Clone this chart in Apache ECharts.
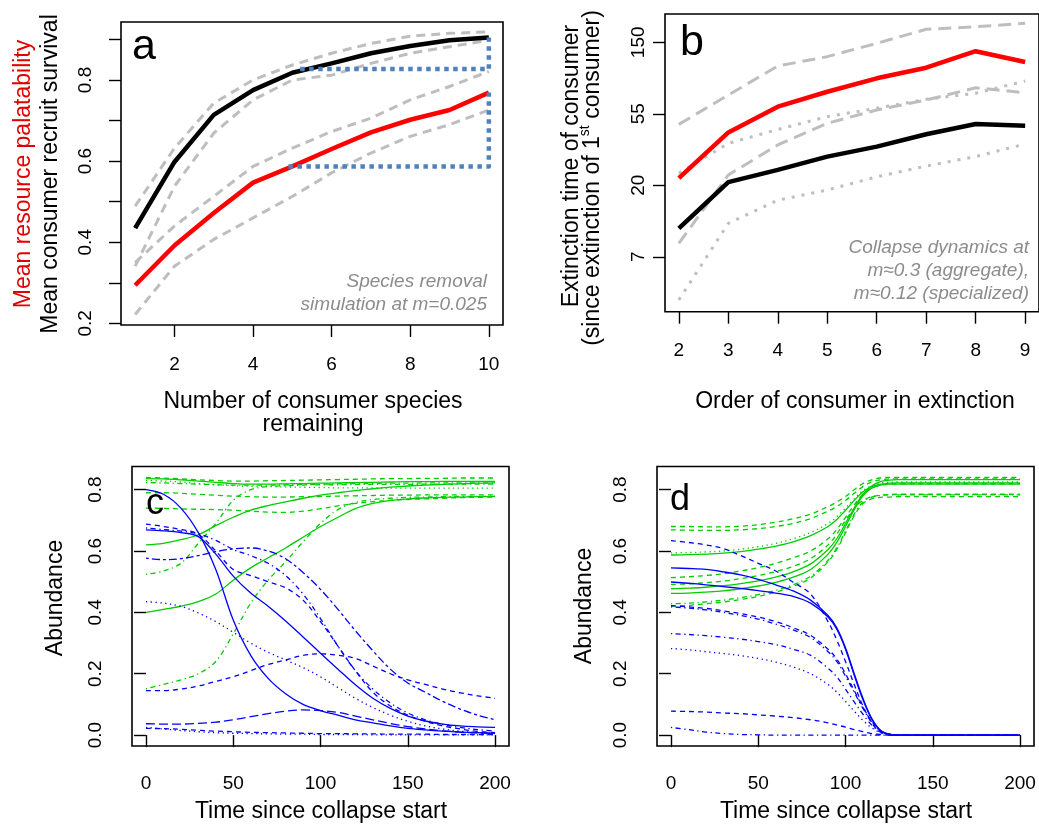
<!DOCTYPE html>
<html>
<head>
<meta charset="utf-8">
<script src="https://cdn.jsdelivr.net/npm/echarts@6/dist/echarts.min.js"></script>
<style>
  html, body { margin: 0; padding: 0; background: #fff; }
  #chart { width: 1039px; height: 824px; }
</style>
</head>
<body>
<div id="chart"></div>
<script>
// ---------- Panel a: species removal simulation ----------
const speciesRemaining = [1, 2, 3, 4, 5, 6, 7, 8, 9, 10];
const survivalMean   = [0.435, 0.598, 0.714, 0.775, 0.818, 0.841, 0.866, 0.884, 0.898, 0.905];
const survivalUpper  = [0.489, 0.632, 0.743, 0.800, 0.837, 0.866, 0.890, 0.908, 0.915, 0.919];
const survivalLower  = [0.341, 0.538, 0.669, 0.751, 0.800, 0.812, 0.841, 0.866, 0.882, 0.898];
const palatMean      = [0.294, 0.392, 0.472, 0.547, 0.587, 0.630, 0.671, 0.702, 0.726, 0.769];
const palatUpper     = [0.350, 0.440, 0.513, 0.587, 0.632, 0.673, 0.706, 0.751, 0.784, 0.821];
const palatLower     = [0.222, 0.341, 0.407, 0.460, 0.513, 0.571, 0.620, 0.661, 0.690, 0.726];
// dotted brackets: change from ~5 to 10 remaining species
const survivalGapX = [5.2, 10, 10];
const survivalGapY = [0.827, 0.827, 0.905];
const palatGapX    = [4.9, 10, 10];
const palatGapY    = [0.587, 0.587, 0.769];
const axisA_xTicks = [2, 4, 6, 8, 10];
const axisA_yTicks = [0.2, 0.3, 0.4, 0.5, 0.6, 0.7, 0.8, 0.9];
const axisA_yLabels = [0.2, 0.4, 0.6, 0.8];

// ---------- Panel b: extinction times (log scale) ----------
const extinctionOrder = [2, 3, 4, 5, 6, 7, 8, 9];
const redTime        = [22.2, 42.1, 60.3, 74.3, 89.7, 104, 131, 112.6];
const blackTime      = [11.0, 21.0, 24.9, 30.0, 34.5, 41.0, 47.3, 46.2];
const redBandUpper   = [47.1, 71, 106.6, 121.4, 146.4, 178, 184.6, 193.7];
const redBandLower   = [8.9, 23.2, 35.3, 47.8, 57.6, 66.2, 78.6, 73.3];
const blackBandUpper = [23.8, 36.1, 43.9, 52.5, 59, 66.9, 72.8, 86.4];
const blackBandLower = [4.04, 11.8, 16.3, 18.8, 22.6, 26.3, 30, 35.8];
const axisB_xTicks = [2, 3, 4, 5, 6, 7, 8, 9];
const axisB_yTickExp = [2, 3, 4, 5];            // natural-log positions
const axisB_yTickLabels = ['7', '20', '55', '150'];

// ---------- Panel c: aggregate collapse dynamics ----------
const timeC = [0, 10, 20, 30, 40, 50, 60, 70, 80, 90, 100, 110, 120, 130, 140, 150, 160, 170, 180, 190, 200];
const resC1 = [0.840, 0.838, 0.835, 0.832, 0.830, 0.828, 0.828, 0.829, 0.830, 0.831, 0.832, 0.833, 0.834, 0.835, 0.836, 0.836, 0.837, 0.837, 0.838, 0.838, 0.838];
const resC2 = [0.836, 0.835, 0.832, 0.828, 0.824, 0.820, 0.818, 0.818, 0.819, 0.820, 0.821, 0.822, 0.823, 0.824, 0.825, 0.826, 0.826, 0.827, 0.827, 0.827, 0.827];
const resC3 = [0.830, 0.828, 0.825, 0.820, 0.816, 0.813, 0.811, 0.810, 0.809, 0.808, 0.807, 0.806, 0.806, 0.806, 0.805, 0.805, 0.805, 0.805, 0.805, 0.805, 0.805];
const resC4 = [0.823, 0.822, 0.820, 0.818, 0.816, 0.815, 0.815, 0.815, 0.816, 0.817, 0.818, 0.819, 0.820, 0.820, 0.821, 0.821, 0.822, 0.822, 0.822, 0.822, 0.822];
const resC5 = [0.790, 0.790, 0.788, 0.785, 0.782, 0.779, 0.777, 0.776, 0.776, 0.777, 0.778, 0.779, 0.780, 0.781, 0.782, 0.782, 0.783, 0.783, 0.783, 0.783, 0.783];
const resC6 = [0.740, 0.739, 0.737, 0.736, 0.735, 0.733, 0.730, 0.727, 0.726, 0.730, 0.738, 0.747, 0.755, 0.761, 0.765, 0.768, 0.770, 0.772, 0.774, 0.775, 0.776];
const resC7 = [0.620, 0.625, 0.637, 0.653, 0.683, 0.710, 0.733, 0.748, 0.760, 0.772, 0.782, 0.790, 0.797, 0.803, 0.808, 0.812, 0.815, 0.817, 0.819, 0.821, 0.822];
const resC8 = [0.524, 0.535, 0.560, 0.625, 0.690, 0.765, 0.800, 0.810, 0.813, 0.815, 0.816, 0.816, 0.817, 0.817, 0.817, 0.817, 0.818, 0.818, 0.818, 0.818, 0.818];
const resC9 = [0.400, 0.410, 0.420, 0.435, 0.460, 0.505, 0.545, 0.578, 0.610, 0.645, 0.680, 0.710, 0.738, 0.755, 0.765, 0.770, 0.773, 0.775, 0.776, 0.777, 0.778];
const resC10 = [0.151, 0.165, 0.180, 0.200, 0.240, 0.330, 0.430, 0.505, 0.565, 0.630, 0.690, 0.735, 0.758, 0.768, 0.772, 0.775, 0.776, 0.777, 0.778, 0.778, 0.779];
const conC1 = [0.800, 0.785, 0.740, 0.660, 0.540, 0.375, 0.260, 0.185, 0.135, 0.100, 0.080, 0.065, 0.050, 0.040, 0.030, 0.022, 0.017, 0.013, 0.010, 0.008, 0.006];
const conC2 = [0.669, 0.666, 0.660, 0.647, 0.590, 0.518, 0.463, 0.420, 0.372, 0.320, 0.267, 0.215, 0.164, 0.120, 0.087, 0.062, 0.046, 0.036, 0.030, 0.027, 0.025];
const conC3 = [0.688, 0.680, 0.670, 0.655, 0.600, 0.540, 0.520, 0.500, 0.480, 0.440, 0.370, 0.290, 0.210, 0.140, 0.095, 0.065, 0.045, 0.030, 0.020, 0.012, 0.008];
const conC4 = [0.675, 0.670, 0.665, 0.656, 0.635, 0.605, 0.585, 0.560, 0.520, 0.460, 0.380, 0.290, 0.210, 0.150, 0.105, 0.072, 0.050, 0.035, 0.025, 0.018, 0.013];
const conC5 = [0.577, 0.572, 0.575, 0.585, 0.598, 0.607, 0.610, 0.600, 0.575, 0.530, 0.475, 0.410, 0.340, 0.275, 0.215, 0.170, 0.140, 0.110, 0.085, 0.065, 0.050];
const conC6 = [0.435, 0.430, 0.420, 0.398, 0.370, 0.335, 0.300, 0.270, 0.245, 0.220, 0.190, 0.155, 0.120, 0.090, 0.065, 0.045, 0.030, 0.020, 0.013, 0.008, 0.005];
const conC7 = [0.145, 0.145, 0.150, 0.160, 0.175, 0.190, 0.210, 0.230, 0.245, 0.260, 0.265, 0.260, 0.250, 0.225, 0.200, 0.180, 0.165, 0.150, 0.138, 0.128, 0.120];
const conC8 = [0.037, 0.036, 0.036, 0.038, 0.042, 0.050, 0.060, 0.070, 0.078, 0.082, 0.080, 0.074, 0.062, 0.050, 0.038, 0.028, 0.020, 0.014, 0.010, 0.007, 0.005];
const conC9 = [0.025, 0.020, 0.015, 0.011, 0.008, 0.006, 0.005, 0.004, 0.003, 0.003, 0.002, 0.002, 0.002, 0.001, 0.001, 0.001, 0.001, 0.001, 0.001, 0.001, 0.001];
const conC10 = [0.022, 0.021, 0.019, 0.016, 0.013, 0.011, 0.009, 0.008, 0.007, 0.006, 0.005, 0.005, 0.004, 0.004, 0.003, 0.003, 0.003, 0.002, 0.002, 0.002, 0.002];

// ---------- Panel d: specialized collapse dynamics ----------
const timeD = [0, 10, 20, 30, 40, 50, 60, 70, 80, 90, 95, 100, 105, 110, 115, 120, 125, 130, 150, 200];
const resD1 = [0.680, 0.680, 0.679, 0.679, 0.681, 0.686, 0.694, 0.705, 0.720, 0.745, 0.760, 0.778, 0.800, 0.820, 0.832, 0.838, 0.840, 0.840, 0.840, 0.840];
const resD2 = [0.669, 0.668, 0.667, 0.667, 0.669, 0.673, 0.680, 0.690, 0.706, 0.730, 0.745, 0.765, 0.788, 0.810, 0.825, 0.832, 0.835, 0.835, 0.835, 0.835];
const resD3 = [0.594, 0.595, 0.597, 0.600, 0.606, 0.614, 0.625, 0.640, 0.660, 0.690, 0.712, 0.740, 0.770, 0.797, 0.813, 0.821, 0.824, 0.825, 0.825, 0.825];
const resD4 = [0.587, 0.588, 0.590, 0.593, 0.598, 0.606, 0.616, 0.630, 0.650, 0.680, 0.703, 0.733, 0.765, 0.793, 0.810, 0.818, 0.821, 0.822, 0.822, 0.822];
const resD5 = [0.513, 0.516, 0.520, 0.526, 0.535, 0.546, 0.560, 0.578, 0.600, 0.640, 0.670, 0.710, 0.750, 0.785, 0.806, 0.815, 0.818, 0.819, 0.820, 0.820];
const resD6 = [0.491, 0.493, 0.497, 0.502, 0.510, 0.520, 0.533, 0.550, 0.575, 0.620, 0.655, 0.700, 0.740, 0.765, 0.777, 0.782, 0.784, 0.785, 0.785, 0.785];
const resD7 = [0.477, 0.479, 0.482, 0.487, 0.494, 0.503, 0.515, 0.532, 0.558, 0.605, 0.640, 0.690, 0.740, 0.785, 0.812, 0.826, 0.831, 0.833, 0.833, 0.833];
const resD8 = [0.462, 0.463, 0.466, 0.470, 0.477, 0.486, 0.498, 0.515, 0.540, 0.590, 0.628, 0.680, 0.735, 0.780, 0.805, 0.815, 0.818, 0.818, 0.818, 0.818];
const resD9 = [0.428, 0.430, 0.434, 0.440, 0.448, 0.458, 0.472, 0.490, 0.518, 0.570, 0.610, 0.665, 0.720, 0.760, 0.776, 0.781, 0.783, 0.783, 0.783, 0.783];
const resD10 = [0.420, 0.423, 0.428, 0.434, 0.442, 0.452, 0.466, 0.485, 0.512, 0.565, 0.605, 0.660, 0.715, 0.755, 0.770, 0.775, 0.776, 0.777, 0.777, 0.777];
const conD1 = [0.634, 0.628, 0.620, 0.608, 0.585, 0.560, 0.535, 0.498, 0.460, 0.370, 0.310, 0.240, 0.165, 0.095, 0.040, 0.010, 0.002, 0, 0, 0];
const conD2 = [0.545, 0.543, 0.540, 0.532, 0.522, 0.508, 0.490, 0.470, 0.440, 0.390, 0.350, 0.285, 0.200, 0.120, 0.055, 0.016, 0.003, 0, 0, 0];
const conD3 = [0.499, 0.495, 0.490, 0.484, 0.478, 0.471, 0.463, 0.452, 0.430, 0.385, 0.345, 0.280, 0.195, 0.115, 0.052, 0.015, 0.003, 0, 0, 0];
const conD4 = [0.422, 0.418, 0.413, 0.405, 0.396, 0.385, 0.370, 0.350, 0.325, 0.280, 0.248, 0.200, 0.145, 0.090, 0.045, 0.014, 0.003, 0, 0, 0];
const conD5 = [0.418, 0.414, 0.408, 0.400, 0.390, 0.378, 0.362, 0.343, 0.318, 0.272, 0.240, 0.192, 0.140, 0.087, 0.043, 0.013, 0.002, 0, 0, 0];
const conD6 = [0.331, 0.328, 0.324, 0.319, 0.313, 0.305, 0.295, 0.280, 0.260, 0.218, 0.190, 0.150, 0.108, 0.068, 0.033, 0.010, 0.002, 0, 0, 0];
const conD7 = [0.282, 0.278, 0.272, 0.266, 0.259, 0.250, 0.238, 0.222, 0.200, 0.165, 0.140, 0.110, 0.078, 0.048, 0.024, 0.008, 0.001, 0, 0, 0];
const conD8 = [0.078, 0.077, 0.075, 0.072, 0.070, 0.066, 0.062, 0.057, 0.050, 0.040, 0.033, 0.026, 0.018, 0.011, 0.005, 0.002, 0, 0, 0, 0];
const conD9 = [0.025, 0.018, 0.010, 0.005, 0.002, 0.001, 0, 0, 0, 0, 0, 0, 0, 0, 0, 0, 0, 0, 0, 0];
const axisCD_xTicks = [0, 50, 100, 150, 200];
const axisCD_yTicks = [0, 0.2, 0.4, 0.6, 0.8];

// ---------- styles ----------
const FONT = "'Liberation Sans', Arial, sans-serif";
const GREY = '#bebebe';
const GREEN = '#00cd00';
const BLUE = '#0000ff';
const BRACKET = '#4f81bd';
const LTY = {
  solid: 'solid',
  dashed: [5, 4],
  dotted: [1.3, 3.5],
  dotdash: [1.3, 3.5, 5, 3.5],
  longdash: [9, 4],
  twodash: [3, 3, 8, 3]
};

function pairs(xs, ys, f) {
  return xs.map((x, i) => [x, f ? f(ys[i]) : ys[i]]);
}
function line(g, xs, ys, color, width, type, extra) {
  return Object.assign({
    type: 'line', xAxisIndex: g, yAxisIndex: g,
    data: pairs(xs, ys),
    symbol: 'none', silent: true, animation: false,
    lineStyle: { color: color, width: width, type: type, cap: 'butt', join: 'round' },
    z: 2
  }, extra || {});
}

const grids = [
  { left: 121, top: 22, width: 382, height: 303 },
  { left: 665, top: 14, width: 382.5, height: 297.7 },
  { left: 132, top: 466.5, width: 377, height: 279.5 },
  { left: 657, top: 466.5, width: 377, height: 279.5 }
].map(g => Object.assign({ show: true, borderColor: '#000', borderWidth: 1.6, backgroundColor: 'transparent' }, g));

function valueAxis(g, min, max, ticks, labels, fmt, margin, rotate) {
  return {
    type: 'value', gridIndex: g, min: min, max: max,
    axisLine: { show: false },
    splitLine: { show: false },
    axisTick: { show: true, customValues: ticks, length: 12, lineStyle: { color: '#000', width: 1.4 } },
    axisLabel: {
      show: true, customValues: labels, formatter: fmt, margin: margin, rotate: rotate || 0,
      color: '#000', fontFamily: FONT, fontSize: 19
    }
  };
}

const xAxes = [
  valueAxis(0, 0.64, 10.36, axisA_xTicks, axisA_xTicks, v => String(v), 30),
  valueAxis(1, 1.72, 9.28, axisB_xTicks, axisB_xTicks, v => String(v), 30),
  valueAxis(2, -8, 208, axisCD_xTicks, axisCD_xTicks, v => String(v), 28),
  valueAxis(3, -8, 208, axisCD_xTicks, axisCD_xTicks, v => String(v), 28)
];
const yAxes = [
  valueAxis(0, 0.196, 0.943, axisA_yTicks, axisA_yLabels, v => v.toFixed(1), 26, 90),
  valueAxis(1, 1.232, 5.396, axisB_yTickExp, axisB_yTickExp,
    v => axisB_yTickLabels[axisB_yTickExp.indexOf(Math.round(v))], 17, 90),
  valueAxis(2, -0.0355, 0.8755, axisCD_yTicks, axisCD_yTicks, v => v.toFixed(1), 27, 90),
  valueAxis(3, -0.0355, 0.8755, axisCD_yTicks, axisCD_yTicks, v => v.toFixed(1), 27, 90)
];

const series = [];

// panel a
[survivalUpper, survivalLower, palatUpper, palatLower].forEach(ys =>
  series.push(line(0, speciesRemaining, ys, GREY, 3, [9, 6])));
series.push(line(0, speciesRemaining, survivalMean, '#000', 4.5, 'solid', { z: 3 }));
series.push(line(0, speciesRemaining, palatMean, '#ff0000', 4.5, 'solid', { z: 3 }));
series.push(line(0, survivalGapX, survivalGapY, BRACKET, 4.5, [4.5, 4.5], { z: 4 }));
series.push(line(0, palatGapX, palatGapY, BRACKET, 4.5, [4.5, 4.5], { z: 4 }));

// panel b (plotted on natural-log scale)
const lnLine = (xs, ys, color, width, type, extra) =>
  Object.assign(line(1, xs, ys, color, width, type, extra), { data: pairs(xs, ys, Math.log) });
series.push(lnLine(extinctionOrder, redBandUpper, GREY, 3, [13, 7]));
series.push(lnLine(extinctionOrder, redBandLower, GREY, 3, [13, 7]));
series.push(lnLine(extinctionOrder, blackBandUpper, GREY, 3, [3, 7]));
series.push(lnLine(extinctionOrder, blackBandLower, GREY, 3, [3, 7]));
series.push(lnLine(extinctionOrder, redTime, '#ff0000', 4.5, 'solid', { z: 3 }));
series.push(lnLine(extinctionOrder, blackTime, '#000', 4.5, 'solid', { z: 3 }));

// panel c
const smooth = { smooth: 0.35 };
const cRes = [
  [resC1, LTY.dashed], [resC2, LTY.solid], [resC3, LTY.dotted], [resC4, LTY.dotdash], [resC5, LTY.dashed],
  [resC6, LTY.dashed], [resC7, LTY.solid], [resC8, LTY.dotdash], [resC9, LTY.solid], [resC10, LTY.dotdash]
];
const cCon = [
  [conC1, LTY.solid], [conC2, LTY.solid], [conC3, LTY.dashed], [conC4, LTY.dotdash], [conC5, LTY.twodash],
  [conC6, LTY.dotted], [conC7, LTY.dashed], [conC8, LTY.longdash], [conC9, LTY.dotted], [conC10, LTY.dashed]
];
cRes.forEach(([ys, t]) => series.push(line(2, timeC, ys, GREEN, 1.3, t, smooth)));
cCon.forEach(([ys, t]) => series.push(line(2, timeC, ys, BLUE, 1.3, t, smooth)));

// panel d
const dRes = [
  [resD1, LTY.dashed], [resD2, LTY.dashed], [resD3, LTY.dotted], [resD4, LTY.solid], [resD5, LTY.dashed],
  [resD6, LTY.dashed], [resD7, LTY.solid], [resD8, LTY.solid], [resD9, LTY.dotdash], [resD10, LTY.dashed]
];
const dCon = [
  [conD1, LTY.dashed], [conD2, LTY.solid], [conD3, LTY.solid], [conD4, LTY.dashed], [conD5, LTY.dotdash],
  [conD6, LTY.dotdash], [conD7, LTY.dotted], [conD8, LTY.dashed], [conD9, LTY.dotdash]
];
dRes.forEach(([ys, t]) => series.push(line(3, timeD, ys, GREEN, 1.3, t, smooth)));
dCon.forEach(([ys, t]) => series.push(line(3, timeD, ys, BLUE, 1.3, t, smooth)));

// ---------- text ----------
function txt(text, x, y, size, opts) {
  opts = opts || {};
  const align = opts.align || 'center';
  const el = {
    type: 'text', x: x, y: y, rotation: opts.rot || 0, silent: true, z: 10,
    style: {
      text: text, fill: opts.color || '#000',
      font: (opts.italic ? 'italic ' : '') + size + 'px ' + FONT,
      align: align, textAlign: align, verticalAlign: 'middle', textVerticalAlign: 'middle'
    }
  };
  if (opts.rich) el.style.rich = opts.rich;
  return el;
}
const V = Math.PI / 2;
const NOTE = '#8c8c8c';
const graphic = [
  // panel a
  txt('a', 132, 47, 43, { align: 'left' }),
  txt('Mean resource palatability', 23.5, 174, 23, { rot: V, color: '#e00000' }),
  txt('Mean consumer recruit survival', 50.5, 174, 23, { rot: V }),
  txt('Number of consumer species', 313, 402, 23),
  txt('remaining', 313, 425, 23),
  txt('Species removal', 487, 282, 19, { align: 'right', italic: true, color: NOTE }),
  txt('simulation at m=0.025', 487, 305, 19, { align: 'right', italic: true, color: NOTE }),
  // panel b
  txt('b', 680, 43, 43, { align: 'left' }),
  txt('Extinction time of consumer', 572, 166, 23, { rot: V }),
  txt('{n|(since extinction of 1}{s|st}{n| consumer)}', 591, 178, 23, {
    rot: V,
    rich: {
      n: { fontSize: 23, fontFamily: FONT, fill: '#000', lineHeight: 26, verticalAlign: 'bottom' },
      s: { fontSize: 14, fontFamily: FONT, fill: '#000', lineHeight: 26, verticalAlign: 'top' }
    }
  }),
  txt('Order of consumer in extinction', 855, 402, 23),
  txt('Collapse dynamics at', 1029, 248, 19, { align: 'right', italic: true, color: NOTE }),
  txt('m\u22480.3 (aggregate),', 1029, 271, 19, { align: 'right', italic: true, color: NOTE }),
  txt('m\u22480.12 (specialized)', 1029, 293.5, 19, { align: 'right', italic: true, color: NOTE }),
  // panel c
  txt('c', 146, 504.5, 36, { align: 'left' }),
  txt('Abundance', 55.5, 598, 23, { rot: V }),
  txt('Time since collapse start', 321, 811.5, 23),
  // panel d
  txt('d', 670, 500.5, 36, { align: 'left' }),
  txt('Abundance', 585, 606, 23, { rot: V }),
  txt('Time since collapse start', 846, 811.5, 23)
];

const chart = echarts.init(document.getElementById('chart'), null, { renderer: 'canvas', width: 1039, height: 824 });
chart.setOption({
  animation: false,
  backgroundColor: '#fff',
  grid: grids,
  xAxis: xAxes,
  yAxis: yAxes,
  series: series,
  graphic: graphic
});
</script>
</body>
</html>
